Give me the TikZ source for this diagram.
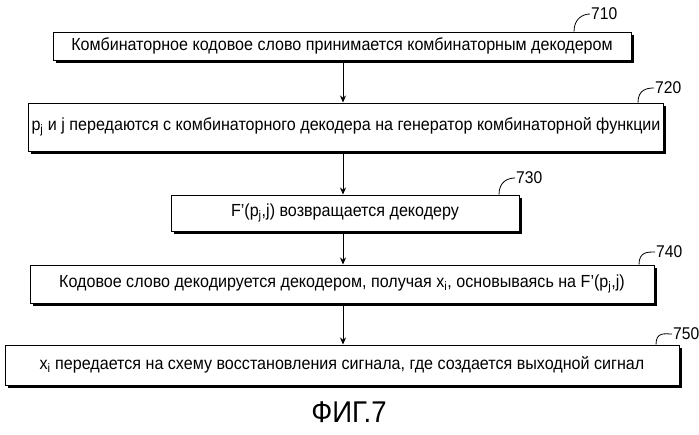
\documentclass[tikz,border=0pt]{standalone}
\usepackage{fontspec}
\setmainfont{Liberation Sans}[FakeStretch=0.92]
\usetikzlibrary{arrows.meta,positioning,shadows}
\tikzset{
    % step box style
    stepbox/.style={
        rectangle,
        draw=black,
        fill=white,
        line width=1pt,
        align=center,
        font=\fontsize{17.5}{20}\selectfont,
        drop shadow={shadow xshift=2.5pt, shadow yshift=-2.5pt, fill=black, opacity=1}
    },
    % arrow style
    flow/.style={-{Stealth[length=7pt, width=6pt]}, line width=0.8pt},
    % reference number style
    refnum/.style={font=\fontsize{17}{19}\selectfont, inner sep=1pt, anchor=west},
    leader/.style={line width=0.8pt}
}
\begin{document}
\begin{tikzpicture}[x=1pt, y=-1pt]
    \useasboundingbox (0,0) rectangle (699,434);

    % Steps
    \node[stepbox, minimum width=578pt, minimum height=28pt] (s1) at (342,46) {Комбинаторное кодовое слово принимается комбинаторным декодером};
    \node[stepbox, minimum width=632pt, minimum height=48pt] (s2) at (346,127) {p\textsubscript{j} и j передаются с комбинаторного декодера на генератор комбинаторной функции};
    \node[stepbox, minimum width=348pt, minimum height=36pt] (s3) at (345,213) {F’(p\textsubscript{j},j) возвращается декодеру};
    \node[stepbox, minimum width=624pt, minimum height=38pt] (s4) at (342,284) {Кодовое слово декодируется декодером, получая x\textsubscript{i}, основываясь на F’(p\textsubscript{j},j)};
    \node[stepbox, minimum width=674pt, minimum height=40pt] (s5) at (342,365) {x\textsubscript{i} передается на схему восстановления сигнала, где создается выходной сигнал};

    % Connections
    \draw[flow] (s1.south -| 343,0) -- (s2.north -| 343,0);
    \draw[flow] (s2.south -| 343,0) -- (s3.north -| 343,0);
    \draw[flow] (s3.south -| 343,0) -- (s4.north -| 343,0);
    \draw[flow] (s4.south -| 343,0) -- (s5.north -| 343,0);

    % Reference numbers
    \node[refnum] (n1) at (590,14) {710};
    \node[refnum] (n2) at (654,88) {720};
    \node[refnum] (n3) at (515,178) {730};
    \node[refnum] (n4) at (655,252) {740};
    \node[refnum] (n5) at (672,334) {750};
    \foreach \i/\x in {1/574,2/638,3/499,4/639,5/656} {
        \coordinate (c\i) at (\x,0);
        \draw[leader] (s\i.north -| c\i) .. controls +(0,-13) and +(-7,0) .. (n\i.west);
    }

    % Caption
    \node[font=\fontsize{30}{34}\selectfont] (fig) at (349,412) {ФИГ.7};
\end{tikzpicture}
\end{document}
